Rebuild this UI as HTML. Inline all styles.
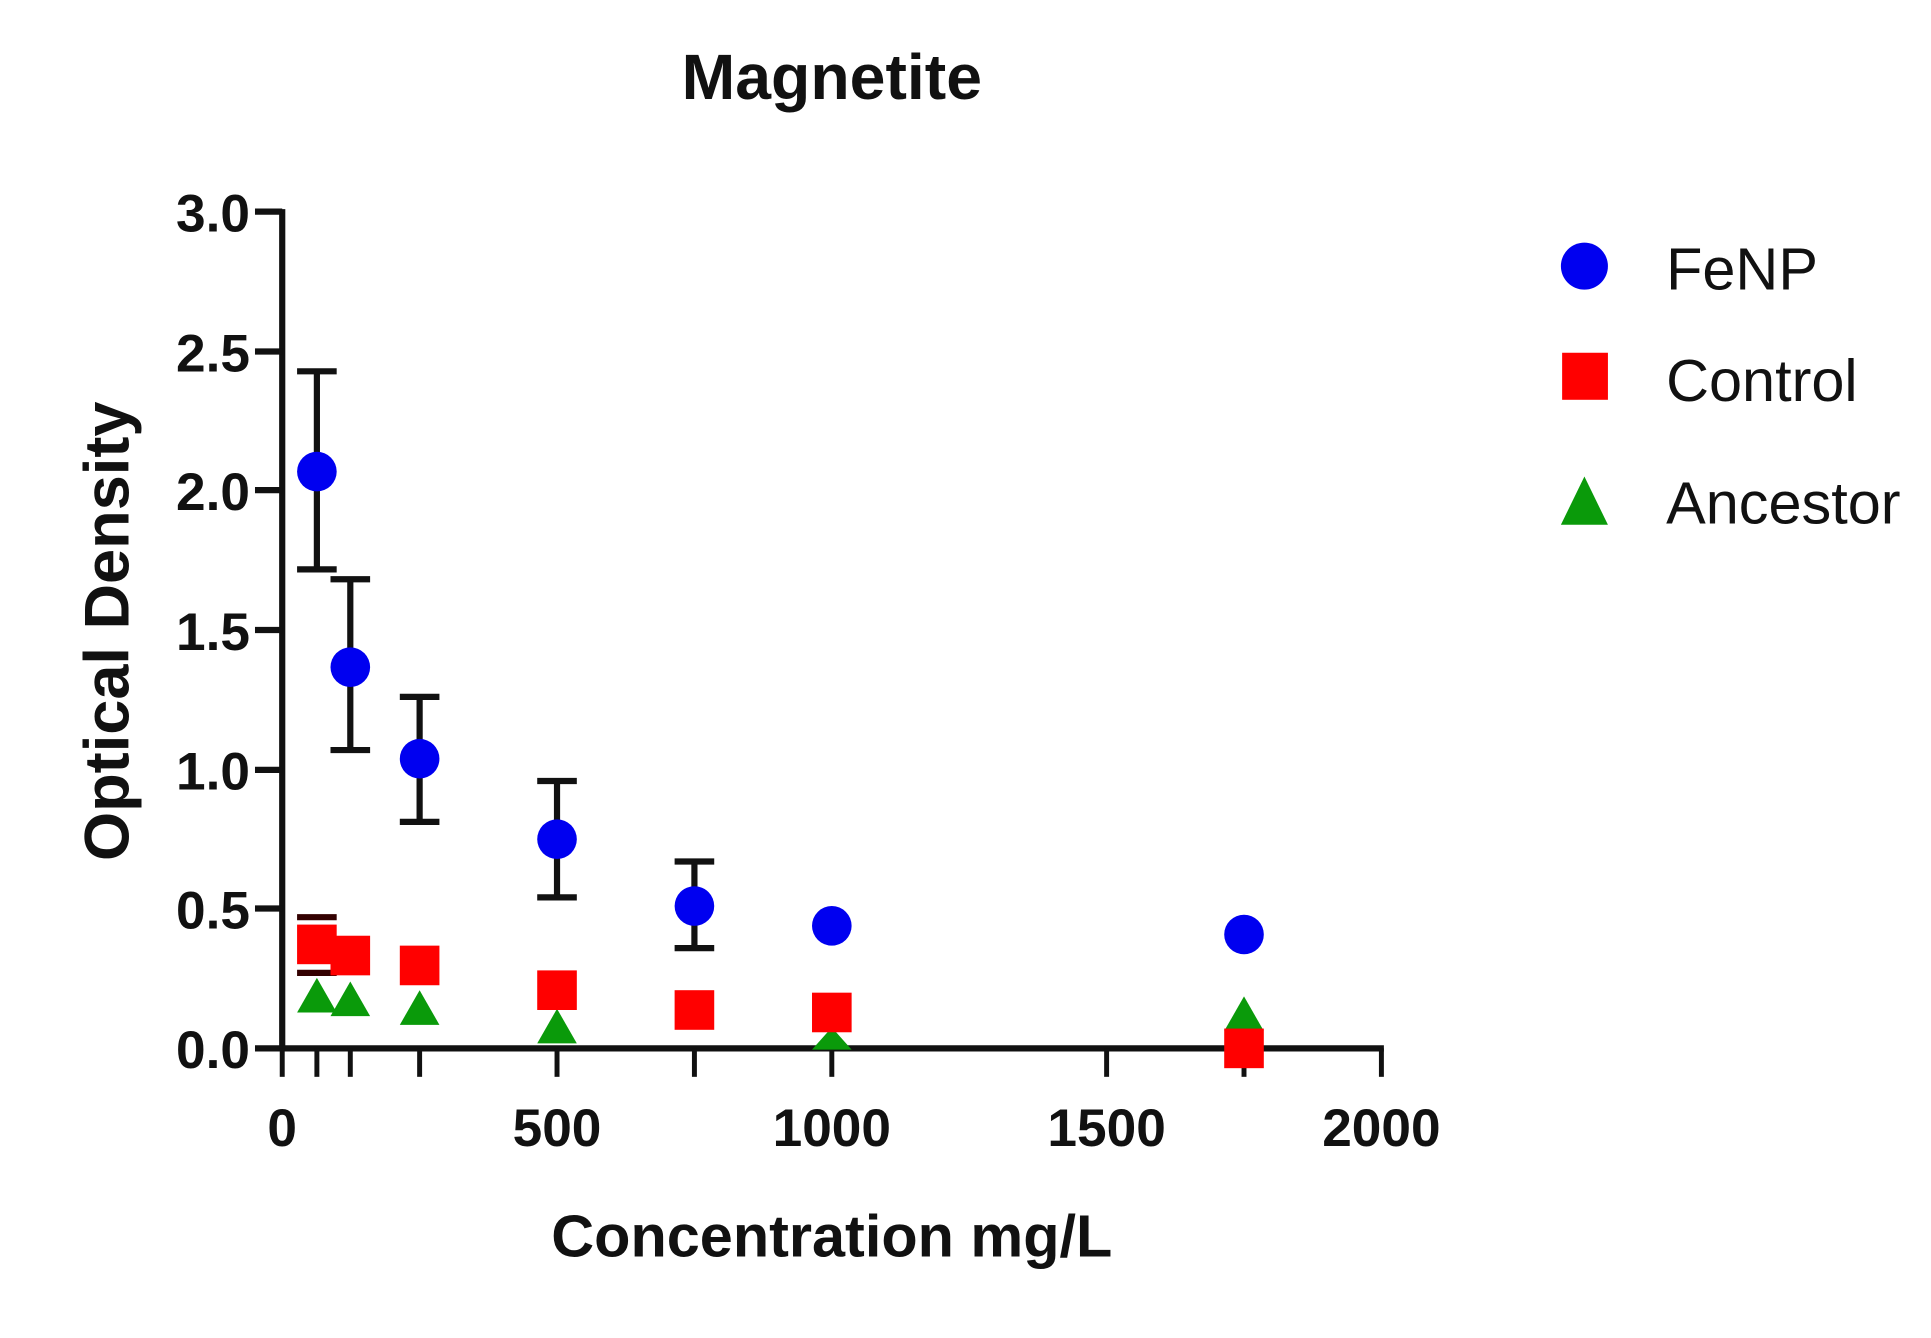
<!DOCTYPE html>
<html><head><style>html,body{margin:0;padding:0;background:#fff}svg{display:block}</style></head>
<body>
<svg width="1931" height="1338" viewBox="0 0 1560 1081" preserveAspectRatio="none" xmlns="http://www.w3.org/2000/svg" font-family="Liberation Sans, Arial, sans-serif">
<rect width="1560" height="1081" fill="#fff"/>
<text x="672" y="80" font-size="52" font-weight="bold" text-anchor="middle" fill="#111">Magnetite</text>
<g stroke="#111" stroke-width="5" fill="none">
<line x1="228" y1="169" x2="228" y2="849"/>
<line x1="226" y1="847" x2="1118" y2="847"/>
<line x1="206" y1="171" x2="228" y2="171"/>
<line x1="206" y1="284" x2="228" y2="284"/>
<line x1="206" y1="396" x2="228" y2="396"/>
<line x1="206" y1="509" x2="228" y2="509"/>
<line x1="206" y1="622" x2="228" y2="622"/>
<line x1="206" y1="734" x2="228" y2="734"/>
<line x1="206" y1="847" x2="228" y2="847"/>
<g stroke-width="4">
<line x1="228" y1="847" x2="228" y2="870"/>
<line x1="256" y1="847" x2="256" y2="870"/>
<line x1="283" y1="847" x2="283" y2="870"/>
<line x1="339" y1="847" x2="339" y2="870"/>
<line x1="450" y1="847" x2="450" y2="870"/>
<line x1="561" y1="847" x2="561" y2="870"/>
<line x1="672" y1="847" x2="672" y2="870"/>
<line x1="894" y1="847" x2="894" y2="870"/>
<line x1="1005" y1="847" x2="1005" y2="870"/>
<line x1="1116" y1="847" x2="1116" y2="870"/>
</g>
</g>
<g font-size="43" font-weight="bold" fill="#111" text-anchor="end">
<text x="202" y="187">3.0</text>
<text x="202" y="300">2.5</text>
<text x="202" y="412">2.0</text>
<text x="202" y="525">1.5</text>
<text x="202" y="638">1.0</text>
<text x="202" y="750">0.5</text>
<text x="202" y="863">0.0</text>
</g>
<g font-size="43" font-weight="bold" fill="#111" text-anchor="middle">
<text x="228" y="926">0</text>
<text x="450" y="926">500</text>
<text x="672" y="926">1000</text>
<text x="894" y="926">1500</text>
<text x="1116" y="926">2000</text>
</g>
<text x="672" y="1015" font-size="48" font-weight="bold" text-anchor="middle" fill="#111">Concentration mg/L</text>
<text transform="translate(104,510) rotate(-90)" font-size="51" font-weight="bold" text-anchor="middle" fill="#111">Optical Density</text>
<g fill="#0a9a0a">
<polygon points="256,790 240,818 272,818"/>
<polygon points="283,793 267,821 299,821"/>
<polygon points="339,800 323,828 355,828"/>
<polygon points="450,815 434,843 466,843"/>
<polygon points="672,830 656,848 688,848"/>
<polygon points="1005,805 989,833 1021,833"/>
</g>
<g stroke="#300" stroke-width="5">
<line x1="240" y1="741" x2="272" y2="741"/>
<line x1="240" y1="786" x2="272" y2="786"/>
</g>
<g fill="#f00">
<rect x="240" y="747" width="32" height="32"/>
<rect x="267" y="756" width="32" height="32"/>
<rect x="323" y="764" width="32" height="32"/>
<rect x="434" y="784" width="32" height="32"/>
<rect x="545" y="800" width="32" height="32"/>
<rect x="656" y="802" width="32" height="32"/>
<rect x="989" y="831" width="32" height="32"/>
</g>
<g stroke="#111" stroke-width="5">
<line x1="256" y1="300" x2="256" y2="460"/><line x1="240" y1="300" x2="272" y2="300"/><line x1="240" y1="460" x2="272" y2="460"/>
<line x1="283" y1="468" x2="283" y2="606"/><line x1="267" y1="468" x2="299" y2="468"/><line x1="267" y1="606" x2="299" y2="606"/>
<line x1="339" y1="563" x2="339" y2="664"/><line x1="323" y1="563" x2="355" y2="563"/><line x1="323" y1="664" x2="355" y2="664"/>
<line x1="450" y1="631" x2="450" y2="725"/><line x1="434" y1="631" x2="466" y2="631"/><line x1="434" y1="725" x2="466" y2="725"/>
<line x1="561" y1="696" x2="561" y2="766"/><line x1="545" y1="696" x2="577" y2="696"/><line x1="545" y1="766" x2="577" y2="766"/>
</g>
<g fill="#0000f0">
<circle cx="256" cy="381" r="16"/>
<circle cx="283" cy="539" r="16"/>
<circle cx="339" cy="613" r="16"/>
<circle cx="450" cy="678" r="16"/>
<circle cx="561" cy="732" r="16"/>
<circle cx="672" cy="748" r="16"/>
<circle cx="1005" cy="755" r="16"/>
</g>
<circle cx="1280" cy="215" r="19" fill="#0000f0"/>
<rect x="1262" y="285" width="37" height="38" fill="#f00"/>
<polygon points="1280,385 1261,424 1299,424" fill="#0a9a0a"/>
<g font-size="48" fill="#111">
<text x="1346" y="234">FeNP</text>
<text x="1346" y="324">Control</text>
<text x="1346" y="423">Ancestor</text>
</g>
</svg>
</body></html>
